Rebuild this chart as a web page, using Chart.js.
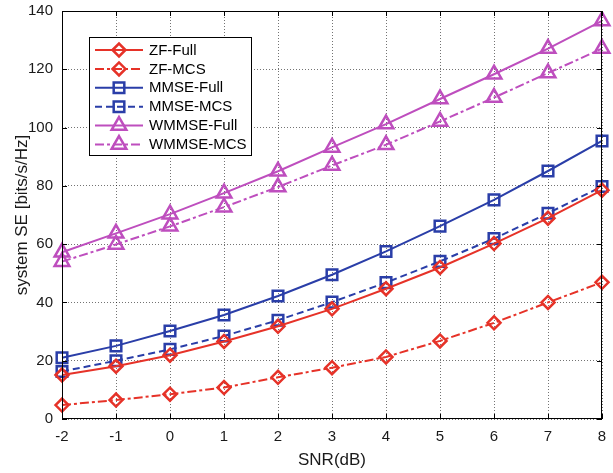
<!DOCTYPE html>
<html>
<head>
<meta charset="utf-8">
<script src="https://cdn.jsdelivr.net/npm/chart.js@4/dist/chart.umd.min.js"></script>
<style>
  html,body{margin:0;padding:0;background:#fff;}
  #wrap{width:613px;height:473px;position:relative;}
</style>
</head>
<body>
<div id="wrap"><canvas id="c" width="613" height="473"></canvas></div>
<script>
// ---- data ----
const snrLabels = ['-2','-1','0','1','2','3','4','5','6','7','8'];
const yTicks = [0, 20, 40, 60, 80, 100, 120, 140];
const zfFull    = [15.1, 18.1, 21.9, 26.6, 31.8, 37.8, 44.7, 52.0, 60.2, 68.9, 78.5];
const zfMcs     = [4.8, 6.5, 8.5, 10.8, 14.3, 17.6, 21.3, 26.8, 33.0, 40.0, 46.9];
const mmseFull  = [21.0, 25.1, 30.2, 35.7, 42.2, 49.5, 57.5, 66.2, 75.2, 85.1, 95.4];
const mmseMcs   = [16.3, 20.0, 23.9, 28.5, 33.9, 40.1, 46.8, 54.1, 61.9, 70.6, 79.8];
const wmmseFull = [57.2, 63.7, 70.3, 77.5, 85.0, 93.2, 101.2, 109.8, 118.3, 127.1, 136.6];
const wmmseMcs  = [54.0, 59.9, 66.1, 72.7, 79.6, 87.0, 94.1, 102.1, 110.3, 118.7, 127.1];
const seriesNames = ['ZF-Full','ZF-MCS','MMSE-Full','MMSE-MCS','WMMSE-Full','WMMSE-MCS'];

const RED = 'rgb(230,50,40)';
const BLUE = 'rgb(42,62,168)';
const MAG = 'rgb(190,78,190)';
const FONT = '"Liberation Sans", Arial, Helvetica, sans-serif';
const DASHDOT = [9,3,3,3];
const DASH = [7,4];

function ds(label, data, color, dash, style, radius) {
  return {
    label, data,
    borderColor: color, backgroundColor: color,
    borderWidth: 2, borderDash: dash,
    pointStyle: style, pointRadius: radius, pointHoverRadius: radius,
    pointBorderColor: color, pointBackgroundColor: 'rgba(0,0,0,0)',
    pointBorderWidth: 2.5, tension: 0, fill: false
  };
}

const datasets = [
  ds(seriesNames[0], zfFull, RED, [], 'rectRot', 6.5),
  ds(seriesNames[1], zfMcs, RED, DASHDOT, 'rectRot', 6.5),
  ds(seriesNames[2], mmseFull, BLUE, [], 'rect', 7.5),
  ds(seriesNames[3], mmseMcs, BLUE, DASH, 'rect', 7.5),
  ds(seriesNames[4], wmmseFull, MAG, [], 'triangle', 8.5),
  ds(seriesNames[5], wmmseMcs, MAG, DASHDOT, 'triangle', 8.5)
];

function drawMarker(ctx, style, x, y, r) {
  ctx.beginPath();
  if (style === 'rectRot') {
    ctx.moveTo(x - r, y); ctx.lineTo(x, y - r); ctx.lineTo(x + r, y); ctx.lineTo(x, y + r);
  } else if (style === 'rect') {
    const s = r * Math.SQRT1_2;
    ctx.rect(x - s, y - s, 2 * s, 2 * s);
  } else {
    let a = 0;
    ctx.moveTo(x + Math.sin(a) * r, y - Math.cos(a) * r);
    a += 2 * Math.PI / 3; ctx.lineTo(x + Math.sin(a) * r, y - Math.cos(a) * r);
    a += 2 * Math.PI / 3; ctx.lineTo(x + Math.sin(a) * r, y - Math.cos(a) * r);
  }
  ctx.closePath();
  ctx.stroke();
}

const framePlugin = {
  id: 'frame',
  afterDraw(chart) {
    const ctx = chart.ctx;
    const a = chart.chartArea;
    const xs = chart.scales.x, ys = chart.scales.y;
    ctx.save();
    ctx.strokeStyle = '#000';
    ctx.lineWidth = 1;
    ctx.setLineDash([]);
    ctx.strokeRect(Math.round(a.left) + 0.5, Math.round(a.top) + 0.5,
                   Math.round(a.right - a.left) - 1, Math.round(a.bottom - a.top) - 1);
    const TL = 5;
    ctx.beginPath();
    snrLabels.forEach((l, i) => {
      const px = Math.round(xs.getPixelForValue(i)) + 0.5;
      ctx.moveTo(px, a.bottom); ctx.lineTo(px, a.bottom - TL);
      ctx.moveTo(px, a.top); ctx.lineTo(px, a.top + TL);
    });
    yTicks.forEach(v => {
      const py = Math.round(ys.getPixelForValue(v)) + 0.5;
      ctx.moveTo(a.left, py); ctx.lineTo(a.left + TL, py);
      ctx.moveTo(a.right, py); ctx.lineTo(a.right - TL, py);
    });
    ctx.stroke();

    // legend
    const lx = 89.5, ly = 37.5, lw = 162, lh = 118;
    ctx.fillStyle = '#fff';
    ctx.fillRect(lx, ly, lw, lh);
    ctx.strokeStyle = '#000';
    ctx.lineWidth = 1;
    ctx.strokeRect(lx, ly, lw, lh);
    ctx.font = '15px ' + FONT;
    ctx.textBaseline = 'middle';
    ctx.textAlign = 'left';
    chart.data.datasets.forEach((d, i) => {
      const cy = 50 + i * 18.9;
      ctx.strokeStyle = d.borderColor;
      ctx.lineWidth = 2;
      ctx.setLineDash(d.borderDash || []);
      ctx.beginPath();
      ctx.moveTo(95, cy); ctx.lineTo(143, cy);
      ctx.stroke();
      ctx.setLineDash([]);
      ctx.lineWidth = 2.5;
      drawMarker(ctx, d.pointStyle, 119, cy, d.pointRadius);
      ctx.fillStyle = '#000';
      ctx.fillText(d.label, 149, cy + 0.5);
    });
    ctx.restore();
  }
};

new Chart(document.getElementById('c'), {
  type: 'line',
  data: { labels: snrLabels, datasets },
  options: {
    responsive: false,
    animation: false,
    devicePixelRatio: 1,
    layout: { padding: { top: 10, right: 4, left: 0, bottom: 0 } },
    plugins: { legend: { display: false }, tooltip: { enabled: false } },
    scales: {
      x: {
        type: 'category',
        offset: false,
        grid: { display: true, color: 'rgba(0,0,0,0.55)', lineWidth: 1, drawTicks: false },
        border: { display: false, dash: [1, 2] },
        ticks: { color: '#1a1a1a', font: { family: FONT, size: 15 }, padding: 9, maxRotation: 0, autoSkip: false },
        title: { display: true, text: 'SNR(dB)', color: '#1a1a1a', font: { family: FONT, size: 17 }, padding: { top: 0, bottom: 2 } },
        afterFit(s) { s.height = 54; s.paddingLeft = 0; s.paddingRight = 0; }
      },
      y: {
        type: 'linear',
        min: 0, max: 140,
        afterBuildTicks(s) { s.ticks = yTicks.map(v => ({ value: v })); },
        grid: { display: true, color: 'rgba(0,0,0,0.55)', lineWidth: 1, drawTicks: false },
        border: { display: false, dash: [1, 2] },
        ticks: { color: '#1a1a1a', font: { family: FONT, size: 15 }, padding: 9 },
        title: { display: true, text: 'system SE [bits/s/Hz]', color: '#1a1a1a', font: { family: FONT, size: 17 }, padding: { top: 12, bottom: 0 } },
        afterFit(s) { s.width = 62; s.paddingTop = 0; s.paddingBottom = 0; }
      }
    }
  },
  plugins: [framePlugin]
});
</script>
</body>
</html>
